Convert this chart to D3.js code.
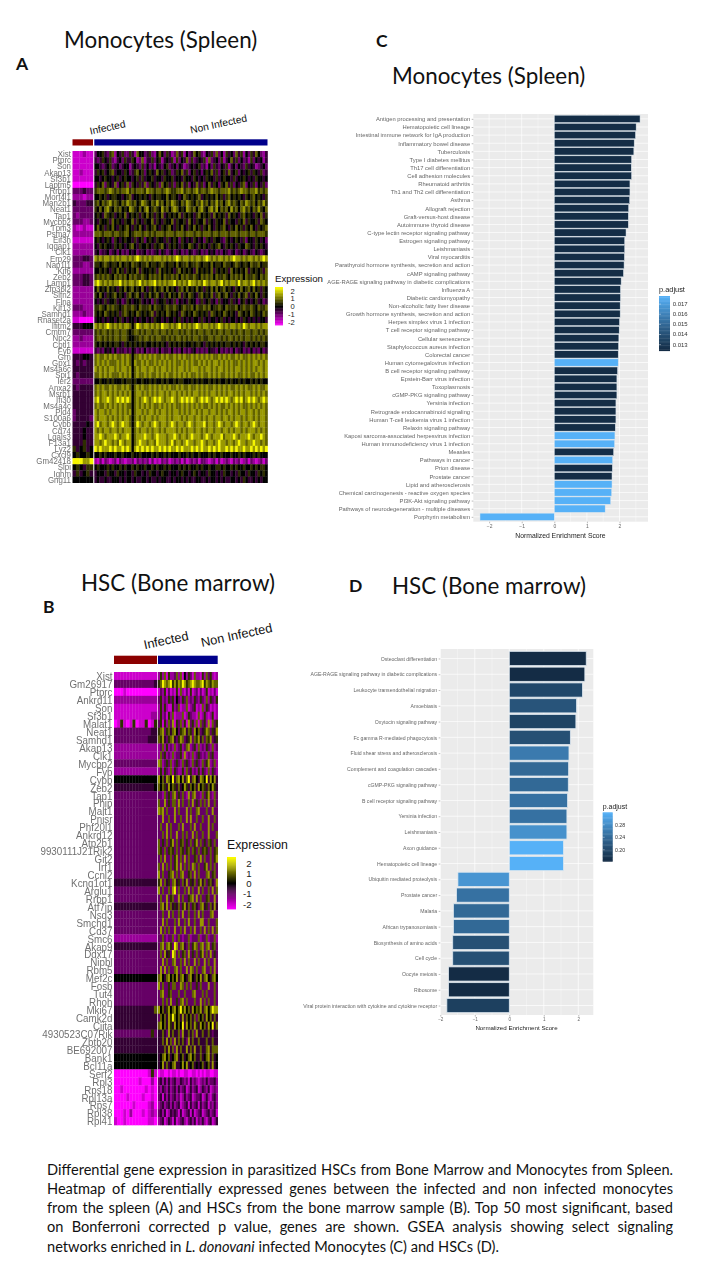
<!DOCTYPE html>
<html><head><meta charset="utf-8">
<script src="https://cdn.jsdelivr.net/npm/d3@7"></script>
<style>
html,body{margin:0;padding:0;background:#fff}
svg{display:block}
.soft{filter:blur(.35px)}
.heat{filter:blur(.6px)}
</style></head><body>
<svg id="fig" width="720" height="1280"></svg>
<script>
// ---------- Panel A heatmap: genes and expression levels (first block infected, rest non infected; digit = level)
const genesA=["Xist","Ptprc","Son","Akap13","Sf3b1","Laptm5","Rrbp1","Morf4l1","Man2b1","Neat1","Tap1","Mycbp2","Tpm3","Psma7","Eif3h","Iqgap1","Clk1","Erp29","Nap1l1","Kif6","Zeb2","Lamp1","Zfp36l2","Slfn2","Flna","Klf13","Samhd1","Rnaset2a","Ifitm2","Cmtm7","Npc2","Cptl1","Fyb","Grn","Gpx1","Ms4a6c","Spi1","Ier2","Anxa2","Msrb1","Ifi30","Ms4a4c","Pld4","S100a6","Cybb","Cd74","Lgals3","F13a1","Lyz2","Cxcl9","Gm42418","Slpi","Ighm","Gng11"];
const exprA=[
"111211 3556436725 4633642755 3463257536 4237462534 7563254637 3526453746 2536475324",
"111111 4346546324 5364465237 2446356245 4626354736 3454627345 3624574635 3426354524",
"111111 5543456345 3455245436 3534254356 3453542345 4563425364 3546245354 3645423453",
"112111 4656456745 5465346756 3565475645 6346574635 6453565746 3564745635 4564654634",
"111111 5545655456 4565545646 4556455465 5645546554 6545465546 4565546455 6545465545",
"000000 4657365473 5647365464 7365463756 4636574635 4746357465 3657463546 7354635463",
"333433 6777678767 6778676777 6877677678 7667786776 7867767877 6777867678 7767786767",
"222122 5565645665 5456745565 6546566557 5665457656 5674565657 5646756565 4656756546",
"433344 6757678676 5768767568 7657686757 6876576876 5768675768 6757867657 6876757686",
"333333 6575786576 7565876575 7856765867 5787565876 7578657868 5767586757 8675768657",
"323333 5654765645 6574565646 5756465745 6565746565 4675656475 6564756546 7565465746",
"333223 5465564756 5465574654 6557465465 5746556475 4655746546 5574655465 7465564765",
"211211 5756465754 6567546575 4656754656 7546575465 7564657546 5675465756 4657546567",
"222222 7776777677 6677567776 7767677767 7767776777 6776777677 6777677767 7767767776",
"111111 5654565365 4565546456 3565465546 4565365454 6545365465 5436545654 6355465453",
"222222 5465655465 6545675465 5654656754 6565465576 5465654656 7546565465 5765465654",
"222222 4534453453 5343545344 5343453543 4534534354 3453435453 4354345345 3454354345",
"333443 8787887878 7887878987 8787888787 8789878878 7887898787 8878789887 8788787898",
"333223 6656765665 7566576656 6756656765 6657566756 6765665756 6576656765 6657667566",
"222222 5565654657 5646565746 5565647565 6546756565 4756565746 5656475656 5746565647",
"333443 6767676576 7675767667 6576767576 6767576766 7657676757 6676576767 5766765767",
"333443 8987878788 9787887897 8788978787 8897878798 8787987887 8978788797 8878978787",
"222222 5756575654 6575675657 5465756757 5654675756 5756465757 5675654657 5675756465",
"222222 6575465675 6546756754 6575675465 7565746576 5467565746 7567546575 6746575465",
"222222 5454645564 5346545564 5453645564 5463545465 5346456453 6455464535 6454564534",
"333222 6676576766 5676676576 6675766567 6676567667 5766767566 7657666756 7667657667",
"222322 6565765656 4676565765 6567465657 6565476565 7656564765 6576565476 5657656576",
"110000 4554545545 6454554545 5454655454 5545645454 5546454554 5645455454 6545454554",
"444555 8787898787 8788757987 8878787988 7878978787 8987887878 9878788787 9878878788",
"333333 6767767677 6776567767 6776776776 7677676776 7677677676 7767767677 6776776767",
"223222 6776767677 6776556676 7767677667 6767767676 7767667767 7676776767 6776767676",
"222222 6565656566 5465656565 6556565654 6565656556 5665465656 5656656565 4656565665",
"111111 4343545353 4434354343 5343435344 3534353434 5343435443 5343435345 3435343534",
"444554 7877878787 7878757787 8787877878 7787878778 7878787877 8787877878 7787878787",
"434344 7878787778 7878758778 7877878787 8787787878 7787878788 7878787787 8787887878",
"444444 8787878878 7887857878 8788787887 8787887878 8878788787 8878787887 8787878878",
"434444 7787878777 8787857877 8787787878 7787878787 7878778787 8778787877 8787787878",
"333333 5565565655 5656656556 5565655656 5565665556 5656556565 6556565565 6556565655",
"434444 7878778787 7878757878 7787878787 8778787787 7878787787 8787877878 7877878778",
"444444 7878878787 8787857887 8787878878 7887878787 8878787887 8787887878 7887878787",
"444444 8978898789 8989857878 9878989878 8987898989 8789898789 8989878989 7898987898",
"444444 7877878787 8787757878 7878778787 8787787878 7878778787 8778787878 7787878787",
"344444 8788787887 8787857887 8788787887 8788787878 8787887887 8787887878 8788787887",
"344443 8788878787 8788757878 7887878887 8788878788 7887878878 8788787887 8788787887",
"444454 8978878987 8988757987 8878987887 8987887898 7888978878 9878878987 8878987887",
"444544 8787887887 8788857878 8787887878 8887878788 7887878878 8788787887 8788878787",
"444544 8898788898 7889857888 9887898887 8898788789 8887898788 8978889878 8898788987",
"444644 8878988787 9878857898 8788798887 8978878988 7889878878 9887887898 8788988787",
"645645 9898889898 8989858989 8989889898 9889898889 8989889898 9889898988 9889898989",
"565565 5565655565 5655565565 5556565565 6555655656 5565556565 5655565565 6555656555",
"999889 2131321231 3212231323 2313121323 1232313123 2313321231 3123213231 2313212313",
"565466 5655565655 6565565655 6556565565 6555656565 5656556556 6565565655 6556565665",
"464564 4555465546 5545546554 5465545655 4554565545 6545546554 5465545465 5465546565",
"555555 4544544555 4545545445 5454454554 4545545454 4554454554 5454455454 6544545455"];
// ---------- Panel B heatmap
const genesB=["Xist","Gm26917","Ptprc","Ankrd11","Son","Sf3b1","Malat1","Neat1","Samhd1","Akap13","Clk1","Mycbp2","Fyb","Cybb","Zeb2","Tap1","Phip","Malt1","Pnisr","Phf20l1","Ankrd12","Atp2b1","9930111J21Rik2","Git2","Irf1","Ccnl2","Kcnq1ot1","Arglu1","Rrbp1","Atf7ip","Nsd3","Smchd1","Cd37","Smc6","Akap9","Ddx17","Nipbl","Rbm5","Mef2c","Fosb","Tut4","Rhoh","Mki67","Camk2d","Ciita","4930523C07Rik","Zbtb20","BE692007","Bank1","Bcl11a","Serf2","Rpl3","Rps18","Rpl13a","Rps7","Rpl38","Rpl41"];
const exprB=[
"11111111111111 2627162237 2715263172 2162736212",
"33333333333334 6798789686 8798678987 7896876877",
"00010000000000 1326131216 1721316123 1312612131",
"22222222222222 3623263625 3263723263 2632726326",
"11111111111111 2626211623 7122712361 2172631212",
"11111111111122 2623162712 2271263221 7126212612",
"01610160116016 3616273816 3726183627 1736281736",
"33333333333344 6783674785 3678476385 7346873648",
"33333333333444 7684367843 6873468376 8473768346",
"22222222222222 2372623272 3623782362 7232632723",
"22222222222222 2736232723 3628232723 6323273622",
"33333333333333 8723637236 3273632736 3273682372",
"22222222222222 2626327263 2262736232 6263272632",
"55555555555555 8574875947 8584794785 4875948584",
"44444444444445 7576485764 7458647574 8576475864",
"33333333333333 3327363783 6373283783 3273683273",
"33333333333333 7338363773 8373373836 3737383373",
"33333333333333 8783733383 7333837337 8333733833",
"33333333333333 3383373383 3733838337 3373383373",
"33333333333333 3733837333 7383337383 3733383733",
"33333333333333 3373837338 3373733837 3373383337",
"33333333333333 7363736837 3673637368 3736376373",
"33333333333333 7637367637 3763673763 7367637367",
"33333333333333 3738337368 3738373367 3837337368",
"33333333333333 7383737368 3837373873 7336837373",
"33333333333333 8373367837 3783367383 7333783673",
"44444444444444 6837463784 6374836473 6847367438",
"33333333333333 8373373893 7337383733 8373373837",
"33333333333333 3733836733 8373367838 3733673383",
"44444444444444 3784837464 7368473674 3784637484",
"33333333333333 3373383733 7383373373 8373337833",
"33333333333333 3383733373 8337383373 3883373337",
"33333333333333 3837373383 3738337383 3738373837",
"22222222222222 3373233723 7323372333 7233723372",
"44444444444444 3783786398 3784373687 3783783673",
"33333333333333 3738463983 7367383637 3683738363",
"33333333333333 3383733783 3738373383 7338373383",
"33333333333333 3838373378 3733838737 3378337383",
"55555555555555 7854785758 4785478547 5847854785",
"33333333333333 8373363773 3873737336 3733383373",
"33333333333333 3783367333 7337333783 3373733373",
"33333333333333 3373738336 3783733373 3837373373",
"44444444444447 8574685785 7968574857 6847857988",
"44444444444444 3757486975 7484757473 7574857474",
"44444444444444 7857486485 7594857486 4857485947",
"33333333333363 4474384744 7384474738 4474474344",
"44444444444444 4474847384 7474384744 7444744744",
"44444444444444 4447484738 4744847484 4744784777",
"55555555555555 4578574578 4574578574 4745784745",
"55555555555555 4584745784 4585845745 4574574845",
"00000000000161 0110010110 1001100110 1010110011",
"00000000100020 3424242342 2432314232 1232423342",
"00100000001010 3243242342 4234124234 1243241232",
"00001000010010 3414242342 3124234123 3412421342",
"00000010000120 2342342423 4123414234 1423413242",
"00010200010121 3424124343 1412341412 3412342341",
"10010000000110 2341243141 2342134241 3242134124"];
const levelValues=[-2.5,-2,-1.5,-1,-.5,0,.45,.95,1.5,2.4];
const exprTicks=[2,1,0,-1,-2];
// ---------- Panel C GSEA
const pathwaysC=["Antigen processing and presentation","Hematopoietic cell lineage","Intestinal immune network for IgA production","Inflammatory bowel disease","Tuberculosis","Type I diabetes mellitus","Th17 cell differentiation","Cell adhesion molecules","Rheumatoid arthritis","Th1 and Th2 cell differentiation","Asthma","Allograft rejection","Graft-versus-host disease","Autoimmune thyroid disease","C-type lectin receptor signaling pathway","Estrogen signaling pathway","Leishmaniasis","Viral myocarditis","Parathyroid hormone synthesis, secretion and action","cAMP signaling pathway","AGE-RAGE signaling pathway in diabetic complications","Influenza A","Diabetic cardiomyopathy","Non-alcoholic fatty liver disease","Growth hormone synthesis, secretion and action","Herpes simplex virus 1 infection","T cell receptor signaling pathway","Cellular senescence","Staphylococcus aureus infection","Colorectal cancer","Human cytomegalovirus infection","B cell receptor signaling pathway","Epstein-Barr virus infection","Toxoplasmosis","cGMP-PKG signaling pathway","Yersinia infection","Retrograde endocannabinoid signaling","Human T-cell leukemia virus 1 infection","Relaxin signaling pathway","Kaposi sarcoma-associated herpesvirus infection","Human immunodeficiency virus 1 infection","Measles","Pathways in cancer","Prion disease","Prostate cancer","Lipid and atherosclerosis","Chemical carcinogenesis - reactive oxygen species","PI3K-Akt signaling pathway","Pathways of neurodegeneration - multiple diseases","Porphyrin metabolism"];
const nesC=[2.63,2.51,2.49,2.45,2.44,2.37,2.36,2.37,2.32,2.32,2.31,2.28,2.27,2.27,2.2,2.16,2.16,2.15,2.14,2.12,2.05,2.03,2.03,2.02,2.02,2,1.99,1.98,1.97,1.96,1.96,1.94,1.92,1.92,1.92,1.89,1.89,1.89,1.87,1.86,1.85,1.82,1.79,1.78,1.77,1.77,1.76,1.73,1.56,-2.28];
const padjC=[.0125,.0125,.0125,.0125,.0125,.0125,.0125,.0125,.0125,.0125,.0125,.0125,.0125,.0125,.0125,.0125,.0125,.0125,.0125,.0125,.0125,.0125,.0125,.0125,.0125,.0125,.0125,.0125,.0125,.0125,.0178,.0125,.0125,.0125,.0125,.0125,.0125,.0125,.0125,.0178,.0178,.0125,.0178,.0125,.0125,.0178,.0178,.0178,.0178,.0178];
const padjTicksC=[.017,.016,.015,.014,.013];
// ---------- Panel D GSEA
const pathwaysD=["Osteoclast differentiation","AGE-RAGE signaling pathway in diabetic complications","Leukocyte transendothelial migration","Amoebiasis","Oxytocin signaling pathway","Fc gamma R-mediated phagocytosis","Fluid shear stress and atherosclerosis","Complement and coagulation cascades","cGMP-PKG signaling pathway","B cell receptor signaling pathway","Yersinia infection","Leishmaniasis","Axon guidance","Hematopoietic cell lineage","Ubiquitin mediated proteolysis","Prostate cancer","Malaria","African trypanosomiasis","Biosynthesis of amino acids","Cell cycle","Oocyte meiosis","Ribosome","Viral protein interaction with cytokine and cytokine receptor"];
const nesD=[2.23,2.19,2.12,1.95,1.93,1.77,1.73,1.72,1.71,1.69,1.67,1.67,1.57,1.57,-1.49,-1.53,-1.62,-1.62,-1.64,-1.64,-1.76,-1.76,-1.81];
const padjD=[.165,.165,.2,.215,.195,.21,.26,.24,.24,.25,.25,.285,.32,.32,.29,.25,.24,.24,.21,.21,.165,.165,.19];
const padjTicksD=[.28,.24,.2];
const nesTicksD=[-2,-1,0,1,2];
const nesTicksC=[-2,-1,0,1,2];
// ---------- Captions
const captionLines=[
 "Differential gene expression in parasitized HSCs from Bone Marrow and Monocytes from Spleen.",
 "Heatmap of differentially expressed genes between the infected and non infected monocytes",
 "from the spleen (A) and HSCs from the bone marrow sample (B). Top 50 most significant, based",
 "on Bonferroni corrected p value, genes are shown. GSEA analysis showing select signaling"];

const SANS="'Liberation Sans',Arial,sans-serif", CAL="Lato,'Open Sans',sans-serif";
const svg=d3.select("#fig");
const exprColor=d3.scaleLinear().domain([-2.5,0,2.5]).range(["#FF00FF","#000000","#FFFF00"]).clamp(true);

function heatmap(o){
 const g=svg.append("g").attr("class","heat");
 const y=d3.scaleBand().domain(o.genes).range([o.top,o.bottom]);
 const parsed=o.rows.map(s=>{const p=s.split(" ");return {inf:p[0],non:p.slice(1).join("")};});
 const xI=d3.scaleBand().domain(d3.range(parsed[0].inf.length)).range([o.x0,o.x1]);
 const xN=d3.scaleBand().domain(d3.range(parsed[0].non.length)).range([o.x2,o.x3]);
 parsed.forEach((r,i)=>{
  const gene=o.genes[i];
  g.selectAll(null).data([...r.inf]).join("rect")
   .attr("x",(d,j)=>xI(j)).attr("y",y(gene)).attr("width",xI.bandwidth()+.3).attr("height",y.bandwidth()+.3)
   .attr("fill",d=>exprColor(levelValues[+d]));
  g.selectAll(null).data([...r.non]).join("rect")
   .attr("x",(d,j)=>xN(j)).attr("y",y(gene)).attr("width",xN.bandwidth()+.3).attr("height",y.bandwidth()+.3)
   .attr("fill",d=>exprColor(levelValues[+d]));
 });
 g.append("rect").attr("x",o.x0).attr("y",o.barTop).attr("width",o.x1-o.x0).attr("height",o.barH).attr("fill","#8B0000");
 g.append("rect").attr("x",o.x2).attr("y",o.barTop).attr("width",o.x3-o.x2).attr("height",o.barH).attr("fill","#00008B");
 const ax=svg.append("g").attr("class","soft").attr("transform",`translate(${o.x0-1.5},0)`).call(d3.axisLeft(y).tickSize(0).tickPadding(0));
 ax.select(".domain").remove();
 ax.selectAll("text").attr("font-family",SANS).attr("font-size",o.labelSize).attr("fill","#707070")
  .attr("dy",null).attr("y",0).attr("dominant-baseline","central")
  .attr("transform",`scale(1,${o.stretch})`);
 [[o.infLabel,"Infected"],[o.nonLabel,"Non Infected"]].forEach(([p,s])=>{
  svg.append("text").text(s).attr("transform",`translate(${p[0]},${p[1]}) rotate(-12)`)
   .attr("text-anchor","middle").attr("dominant-baseline","central")
   .attr("font-family",SANS).attr("font-size",o.groupSize).attr("fill","#111");
 });
 const L=o.legend;
 svg.append("text").text("Expression").attr("x",L.x).attr("y",L.titleY).attr("dominant-baseline","central")
  .attr("font-family",SANS).attr("font-size",L.titleSize).attr("fill","#111");
 const ly=d3.scaleLinear().domain([-2.5,2.5]).range([L.y1,L.y0]);
 const steps=d3.range(-2.5,2.5,.1);
 const lg=svg.append("g").attr("class","soft");
 lg.selectAll("rect").data(steps).join("rect").attr("x",L.x).attr("width",L.w)
  .attr("y",d=>ly(d+.1)).attr("height",d=>ly(d)-ly(d+.1)+.4).attr("fill",d=>exprColor(d+.05));
 const tickY=d3.scaleLinear().domain([-2,2]).range([L.tickBottom,L.tickTop]);
 svg.selectAll(null).data(exprTicks).join("text").text(d=>d).attr("x",d=>L.x+L.w+L.pad+(d<0?0:L.tickSize*.33))
  .attr("y",d=>tickY(d)).attr("dominant-baseline","central").attr("font-family",SANS).attr("font-size",L.tickSize).attr("fill","#222");
}

heatmap({genes:genesA,rows:exprA,top:151,bottom:482.7,x0:72.5,x1:93,x2:94.3,x3:267.5,barTop:139.3,barH:6.2,
 labelSize:7.9,stretch:1.1,groupSize:10.2,infLabel:[107.5,127.5],nonLabel:[218.5,124],
 legend:{x:275,w:8,y0:287,y1:325,titleY:278,titleSize:9.7,tickSize:7.6,pad:5,tickTop:291,tickBottom:322}});
heatmap({genes:genesB,rows:exprB,top:672,bottom:1125,x0:114,x1:157,x2:158,x3:217.7,barTop:655.7,barH:8.3,
 labelSize:9.8,stretch:1.2,groupSize:12.8,infLabel:[166,640],nonLabel:[236.5,635],
 legend:{x:227,w:9,y0:857,y1:909,titleY:845,titleSize:12.3,tickSize:9.6,pad:7,tickTop:863,tickBottom:904}});

function gsea(o){
 const x=d3.scaleLinear().domain(o.dom).range([o.left,o.right]);
 const y=d3.scalePoint().domain(o.names).range([o.top,o.bottom]).padding(.6);
 const fill=d3.scaleLinear().domain(o.pDom).range(["#132B43","#56B1F7"]).interpolate(d3.interpolateLab).clamp(true);
 const g=svg.append("g").attr("class","soft");
 g.append("rect").attr("x",o.left).attr("y",o.top).attr("width",o.right-o.left).attr("height",o.bottom-o.top).attr("fill","#EBEBEB");
 const majors=o.ticks;
 const minors=d3.range(Math.ceil(o.dom[0]*2)/2,o.dom[1],.5).filter(d=>!Number.isInteger(d));
 g.selectAll(".mn").data(minors).join("line").attr("x1",x).attr("x2",x).attr("y1",o.top).attr("y2",o.bottom).attr("stroke","#fff").attr("stroke-width",.35);
 g.selectAll(".mj").data(majors).join("line").attr("x1",x).attr("x2",x).attr("y1",o.top).attr("y2",o.bottom).attr("stroke","#fff").attr("stroke-width",.7);
 g.selectAll(".hl").data(o.names).join("line").attr("x1",o.left).attr("x2",o.right).attr("y1",y).attr("y2",y).attr("stroke","#fff").attr("stroke-width",.7);
 const h=y.step()*.9;
 g.selectAll(".bar").data(o.names).join("rect")
  .attr("x",(d,i)=>x(Math.min(0,o.nes[i]))).attr("width",(d,i)=>Math.abs(x(o.nes[i])-x(0)))
  .attr("y",d=>y(d)-h/2).attr("height",h)
  .attr("fill",(d,i)=>fill(o.p[i])).attr("stroke","#dde7ef").attr("stroke-width",o.barStroke);
 const ay=svg.append("g").attr("class","soft").attr("transform",`translate(${o.left},0)`).call(d3.axisLeft(y).tickSize(1.6).tickPadding(1.6));
 ay.select(".domain").remove();
 ay.selectAll("line").attr("stroke","#555").attr("stroke-width",.4);
 ay.selectAll("text").attr("font-family",SANS).attr("font-size",o.labelSize).attr("fill","#666");
 const ax=svg.append("g").attr("class","soft").attr("transform",`translate(0,${o.bottom})`).call(d3.axisBottom(x).tickValues(majors).tickSize(1.6).tickPadding(1.2).tickFormat(d3.format("d")));
 ax.select(".domain").remove();
 ax.selectAll("line").attr("stroke","#555").attr("stroke-width",.4);
 ax.selectAll("text").attr("font-family",SANS).attr("font-size",o.tickSize).attr("fill","#666");
 svg.append("text").attr("class","soft").text("Normalized Enrichment Score").attr("x",o.titleX).attr("y",o.titleY)
  .attr("text-anchor","middle").attr("dominant-baseline","central").attr("font-family",SANS).attr("font-size",o.titleSize).attr("fill","#222");
 const L=o.legend;
 svg.append("text").attr("class","soft").text("p.adjust").attr("x",L.x).attr("y",L.titleY).attr("dominant-baseline","central")
  .attr("font-family",SANS).attr("font-size",L.titleSize).attr("fill","#222");
 const ly=d3.scaleLinear().domain(o.pDom).range([L.y1,L.y0]);
 const n=40, st=d3.range(n).map(i=>o.pDom[0]+(o.pDom[1]-o.pDom[0])*i/n), dp=(o.pDom[1]-o.pDom[0])/n;
 const lg=svg.append("g").attr("class","soft");
 lg.selectAll("rect").data(st).join("rect").attr("x",L.x).attr("width",L.w).attr("y",d=>ly(d+dp)).attr("height",d=>ly(d)-ly(d+dp)+.4).attr("fill",d=>fill(d+dp/2));
 lg.selectAll("line").data(o.pTicks).join("line").attr("x1",L.x).attr("x2",L.x+2).attr("y1",ly).attr("y2",ly).attr("stroke","#fff").attr("stroke-width",.4);
 lg.selectAll("text").data(o.pTicks).join("text").text(L.fmt).attr("x",L.x+L.w+L.pad).attr("y",ly).attr("dominant-baseline","central")
  .attr("font-family",SANS).attr("font-size",L.tickSize).attr("fill","#333");
}
gsea({names:pathwaysC,nes:nesC,p:padjC,pDom:[.0124,.0178],pTicks:padjTicksC,ticks:nesTicksC,dom:[-2.485,2.874],left:473.3,right:648,top:114,bottom:521.7,
 labelSize:5.8,tickSize:5,titleSize:6.8,titleX:560.5,titleY:535,barStroke:.5,
 legend:{x:659,w:11,y0:296,y1:350.7,titleY:289,titleSize:7.4,tickSize:6,pad:2.7,fmt:d3.format(".3f")}});
gsea({names:pathwaysD,nes:nesD,p:padjD,pDom:[.163,.32],pTicks:padjTicksD,ticks:nesTicksD,dom:[-2,2.435],left:440.3,right:593.3,top:649,bottom:1015,
 labelSize:5.15,tickSize:4.6,titleSize:6.2,titleX:516.5,titleY:1027,barStroke:.8,
 legend:{x:602.7,w:10,y0:812.3,y1:861.3,titleY:806.7,titleSize:7,tickSize:5.2,pad:2.3,fmt:d3.format(".2f")}});

[["Monocytes (Spleen)",64,39],["Monocytes (Spleen)",392,75],["HSC (Bone marrow)",81,582],["HSC (Bone marrow)",392,585]].forEach(([s,x,y])=>{
 svg.append("text").text(s).attr("x",x).attr("y",y).attr("dominant-baseline","central").attr("font-family",CAL).attr("font-size",22.4).attr("fill","#111");
});
[["A",16,70],["B",43,613],["C",376,47],["D",349,592]].forEach(([s,x,y])=>{
 svg.append("text").text(s).attr("x",x).attr("y",y).attr("font-family",CAL).attr("font-weight",700).attr("font-size",17.5).attr("fill","#111");
});
const capLeft=47,capRight=673,capY=[1169,1188,1207,1226,1246],capSize=14.6;
captionLines.forEach((s,i)=>{
 const t=svg.append("text").text(s).attr("x",capLeft).attr("y",capY[i]).attr("dominant-baseline","central").attr("font-family",CAL).attr("font-size",capSize).attr("fill","#111");
 const gap=(capRight-capLeft-t.node().getComputedTextLength())/(s.split(" ").length-1);
 t.attr("word-spacing",gap);
});
const last=svg.append("text").attr("x",capLeft).attr("y",capY[4]).attr("dominant-baseline","central").attr("font-family",CAL).attr("font-size",capSize).attr("fill","#111");
last.append("tspan").text("networks enriched in ");
last.append("tspan").attr("font-style","italic").text("L. donovani");
last.append("tspan").text(" infected Monocytes (C) and HSCs (D).");
</script>
</body></html>
